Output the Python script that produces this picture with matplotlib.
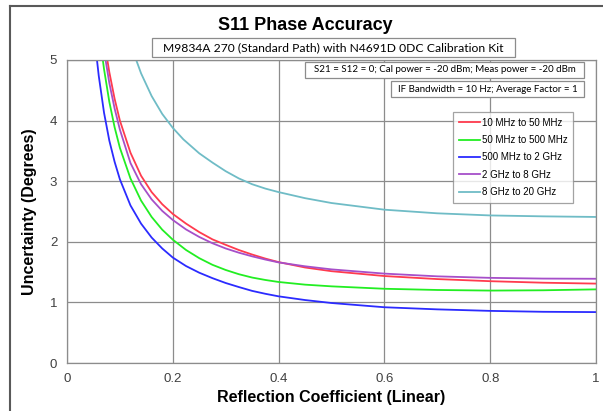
import matplotlib
matplotlib.use("Agg")
import matplotlib.pyplot as plt
from matplotlib.lines import Line2D
from matplotlib.patches import Rectangle

# values (reflection coefficient -> uncertainty, degrees)
x_red = [0.072, 0.08, 0.09, 0.1, 0.12, 0.14, 0.16, 0.18, 0.2, 0.225,
         0.25, 0.275, 0.3, 0.325, 0.35, 0.375, 0.4, 0.45, 0.5, 0.6, 0.7, 0.8, 0.9, 1.0]
y_red = [5.23, 4.80, 4.36, 4.00, 3.47, 3.09, 2.82, 2.62, 2.46, 2.30,
         2.16, 2.04, 1.95, 1.864, 1.79, 1.723, 1.665, 1.576, 1.515, 1.435, 1.385, 1.35,
         1.325, 1.31]

x_green = [0.065, 0.07, 0.08, 0.09, 0.1, 0.12, 0.14, 0.16, 0.18, 0.2, 0.225,
           0.25, 0.275, 0.3, 0.325, 0.35, 0.375, 0.4, 0.45, 0.5, 0.6, 0.7, 0.8, 0.9, 1.0]
y_green = [5.18, 4.85, 4.31, 3.89, 3.55, 3.045, 2.68, 2.41, 2.20, 2.035, 1.865,
           1.73, 1.62, 1.535, 1.465, 1.41, 1.37, 1.337, 1.293, 1.265, 1.225, 1.205, 1.195,
           1.20, 1.215]

x_blue = [0.055, 0.06, 0.07, 0.08, 0.09, 0.1, 0.12, 0.14, 0.16, 0.18, 0.2, 0.225,
          0.25, 0.275, 0.3, 0.325, 0.35, 0.375, 0.4, 0.45, 0.5, 0.6, 0.7, 0.8, 0.9, 1.0]
y_blue = [5.13, 4.74, 4.13, 3.67, 3.32, 3.03, 2.60, 2.30, 2.07, 1.89, 1.74, 1.60,
          1.49, 1.40, 1.32, 1.253, 1.19, 1.142, 1.10, 1.039, 0.99, 0.92, 0.885, 0.86,
          0.845, 0.84]

x_purple = [0.07, 0.08, 0.09, 0.1, 0.12, 0.14, 0.16, 0.18, 0.2, 0.225,
            0.25, 0.275, 0.3, 0.325, 0.35, 0.375, 0.4, 0.45, 0.5, 0.6, 0.7, 0.8, 0.9, 1.0]
y_purple = [5.16, 4.62, 4.20, 3.85, 3.30, 2.95, 2.70, 2.51, 2.36, 2.204,
            2.08, 1.976, 1.89, 1.82, 1.76, 1.707, 1.66, 1.596, 1.545, 1.475, 1.43, 1.405,
            1.393, 1.39]

x_cyan = [0.125, 0.14, 0.16, 0.18, 0.2, 0.22, 0.25, 0.275, 0.3, 0.325, 0.35, 0.375,
          0.4, 0.45, 0.5, 0.6, 0.7, 0.8, 0.9, 1.0]
y_cyan = [5.14, 4.78, 4.405, 4.11, 3.88, 3.69, 3.46, 3.307, 3.165, 3.045, 2.95, 2.878,
          2.82, 2.72, 2.64, 2.53, 2.47, 2.435, 2.42, 2.41]

labels = ["10 MHz to 50 MHz", "50 MHz to 500 MHz", "500 MHz to 2 GHz",
          "2 GHz to 8 GHz", "8 GHz to 20 GHz"]
colors = ["#ff3b4e", "#22ee22", "#2b2bff", "#a64fc9", "#6fbcc6"]
series = [(x_red, y_red), (x_green, y_green), (x_blue, y_blue),
          (x_purple, y_purple), (x_cyan, y_cyan)]

x_ticks = [0, 0.2, 0.4, 0.6, 0.8, 1]
x_tick_labels = ["0", "0.2", "0.4", "0.6", "0.8", "1"]
y_ticks = [0, 1, 2, 3, 4, 5]

plt.rcParams["font.family"] = ["Liberation Sans", "DejaVu Sans"]

W, H = 603, 411
fig = plt.figure(figsize=(W / 100, H / 100), dpi=100)
ax = fig.add_axes([67 / W, 1 - 363 / H, (596 - 67) / W, (363 - 60) / H])

for (xs, ys), lab, col in zip(series, labels, colors):
    ax.plot(xs, ys, color=col, lw=1.3, label=lab)

ax.set_xlim(0, 1)
ax.set_ylim(0, 5)
ax.set_xticks(x_ticks)
ax.set_xticklabels(x_tick_labels)
ax.set_yticks(y_ticks)
ax.grid(True, color="#8c8c8c", lw=0.9)
ax.set_axisbelow(True)
ax.tick_params(length=0, labelsize=9.5, labelcolor="#404040", pad=7)
for s in ax.spines.values():
    s.set_color("#8c8c8c")
    s.set_linewidth(0.9)

ax.set_xlabel("Reflection Coefficient (Linear)", fontsize=11.5, fontweight="bold", labelpad=4)
ax.set_ylabel("Uncertainty (Degrees)", fontsize=11.5, fontweight="bold", labelpad=9)

leg = ax.legend(loc="upper left", bbox_to_anchor=(453 / W, 1 - 112 / H),
                bbox_transform=fig.transFigure, fontsize=7, frameon=True,
                fancybox=False, edgecolor="#8c8c8c", handlelength=2.2,
                handletextpad=0.15, labelspacing=0.75, borderpad=0.6, borderaxespad=0)
leg.get_frame().set_linewidth(0.9)

# title and note boxes
fig.text(305 / W, 1 - 25 / H, "S11 Phase Accuracy", ha="center", va="center",
         fontsize=13, fontweight="bold")


def note(x0, y0, x1, y1, text, size):
    fig.add_artist(Rectangle((x0 / W, 1 - y1 / H), (x1 - x0) / W, (y1 - y0) / H,
                             transform=fig.transFigure, facecolor="white",
                             edgecolor="#8c8c8c", lw=0.9, zorder=5))
    fig.text((x0 + x1) / 2 / W, 1 - (y0 + y1) / 2 / H, text, ha="center", va="center",
             fontsize=size, family=["Lato", "DejaVu Sans"], zorder=6)


note(152, 38, 515, 57, "M9834A 270 (Standard Path) with N4691D 0DC Calibration Kit", 8.7)
note(305, 62, 584, 78, "S21 = S12 = 0; Cal power = -20 dBm; Meas power = -20 dBm", 7)
note(391, 81, 584, 97, "IF Bandwidth = 10 Hz; Average Factor = 1", 7)

# outer chart border (top and left edges visible)
fig.add_artist(Line2D([10 / W, 1], [1 - 6 / H, 1 - 6 / H], color="#595959", lw=1.5))
fig.add_artist(Line2D([10 / W, 10 / W], [0, 1 - 6 / H], color="#595959", lw=1.5))

fig.savefig("out.png", dpi=100)
